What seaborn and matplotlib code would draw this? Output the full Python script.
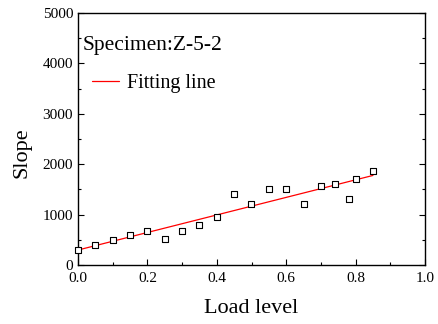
import numpy as np
import pandas as pd
import matplotlib
matplotlib.use("Agg")
import matplotlib.pyplot as plt
from matplotlib.ticker import MultipleLocator
import seaborn as sns

# Measured slope at each load level
load_level = [0.0, 0.05, 0.10, 0.15, 0.20, 0.25, 0.30, 0.35, 0.40, 0.45,
              0.50, 0.55, 0.60, 0.65, 0.70, 0.74, 0.78, 0.80, 0.85]
slope = [300, 396, 502, 588, 680, 509, 667, 786, 945, 1407,
         1202, 1499, 1499, 1202, 1572, 1612, 1308, 1697, 1856]

# Linear fit: slope = intercept + gradient * load level
fit_intercept = 297
fit_gradient = 1741
fit_x = [0.0, 0.85]

df = pd.DataFrame({"Load level": load_level, "Slope": slope})
fit_df = pd.DataFrame({"x": fit_x,
                       "y": [fit_intercept + fit_gradient * v for v in fit_x]})

sns.set_theme(style="ticks")
plt.rcParams["font.family"] = ["Liberation Serif", "DejaVu Serif"]
plt.rcParams["text.color"] = "black"
plt.rcParams["axes.labelcolor"] = "black"

fig = plt.figure(figsize=(4.39, 3.24), dpi=100)
ax = fig.add_axes([78 / 439, 1 - 265 / 324, (425 - 78) / 439, (265 - 13) / 324])

sns.lineplot(data=fit_df, x="x", y="y", ax=ax, color="red", linewidth=0.9,
             label="Fitting line", zorder=2)
sns.scatterplot(data=df, x="Load level", y="Slope", ax=ax, marker="s",
                s=20, facecolor="white", edgecolor="black", linewidth=0.8,
                zorder=3, clip_on=False, legend=False)

ax.set_xlim(0, 1.0)
ax.set_ylim(0, 5000)
ax.xaxis.set_major_locator(MultipleLocator(0.2))
ax.xaxis.set_minor_locator(MultipleLocator(0.1))
ax.yaxis.set_major_locator(MultipleLocator(1000))
ax.yaxis.set_minor_locator(MultipleLocator(500))
ax.tick_params(which="both", direction="in", right=True, top=False,
               labelsize=11, colors="black", width=0.8)
ax.tick_params(which="major", length=4)
ax.tick_params(which="minor", length=2.5)
ax.tick_params(axis="x", pad=5)
for sp in ax.spines.values():
    sp.set_visible(True)
    sp.set_color("black")
    sp.set_linewidth(1.0)

ax.set_xlabel("Load level", fontsize=16, labelpad=10)
ax.set_ylabel("Slope", fontsize=16)
ax.yaxis.set_label_coords(-0.135, 0.445)

ax.text(0.012, 0.87, "Specimen:Z-5-2", transform=ax.transAxes,
        fontsize=15.5, ha="left", va="center")
leg = ax.legend(loc="upper left", bbox_to_anchor=(0.012, 0.8), frameon=False,
                fontsize=14.5, handlelength=1.35, handletextpad=0.4,
                borderaxespad=0.2, borderpad=0.3)

fig.savefig("out.png", dpi=100)
